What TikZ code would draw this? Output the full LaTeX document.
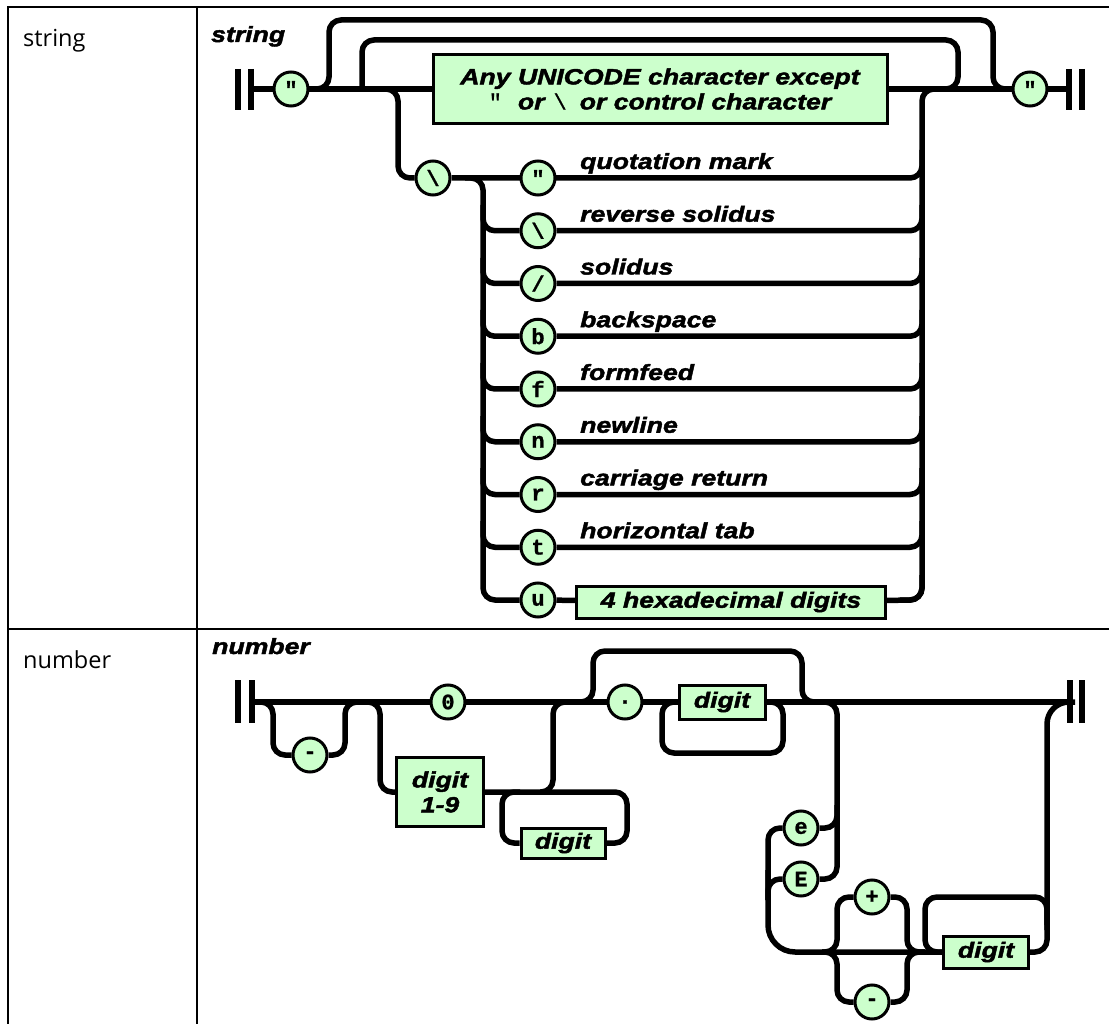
\documentclass[tikz,border=0pt]{standalone}
\usepackage{fontspec}
\usetikzlibrary{backgrounds}
\newfontfamily\rrfont{Liberation Sans}[FakeStretch=1.21,FakeBold=2]
\newfontfamily\monofont{Liberation Mono}[FakeBold=1]
\newfontfamily\cellfont{Open Sans}
\newcommand\rrf{\fontsize{22}{25}\rrfont\bfseries\itshape}
\newcommand\mq{{\monofont\upshape\mdseries "}}
\newcommand\mbs{{\monofont\upshape\mdseries\textbackslash}}
\definecolor{termgreen}{RGB}{204,255,204}
\begin{document}
\begin{tikzpicture}[x=1pt,y=-1pt,
 track/.style={line width=5.5pt,rounded corners=12pt},
 bigr/.style={line width=5.5pt,rounded corners=27pt},
 term/.style={circle,draw,line width=3pt,fill=termgreen,minimum size=34pt,inner sep=0pt,font=\fontsize{22}{22}\monofont\bfseries},
 nterm/.style={rectangle,draw,line width=3pt,fill=termgreen,inner sep=0pt,align=center,font=\rrf},
 lbl/.style={anchor=base west,inner sep=0pt,font=\rrf},
 cell/.style={anchor=base west,inner sep=0pt,font=\fontsize{23.5}{27}\cellfont},
 bar/.style={line width=5.5pt},
 tbl/.style={line width=2.5pt}]
\useasboundingbox (0,0) rectangle (1109,1024);
% table
\draw[tbl] (8,1030) -- (8,7) -- (1115,7);
\draw[tbl] (197,7) -- (197,1030);
\draw[tbl] (8,629) -- (1115,629);
\node[cell] (cstr) at (23,47) {string};
\node[cell] (cnum) at (23,668) {number};
% ---------- string ----------
\node[lbl] (tstr) at (211,42) {string};
\coordinate (sA) at (251,89);
\coordinate (sE) at (1069,89);
\draw[bar] (238,69) -- (238,110);
\draw[bar] (251,69) -- (251,110);
\draw[bar] (1069,69) -- (1069,110);
\draw[bar] (1082,69) -- (1082,110);
\node[term] (sq1) at (291,89) {"};
\node[nterm,minimum width=454pt,minimum height=69pt] (box1) at (660,89)
  {Any UNICODE character except\\\mq\hspace{16pt}or\hspace{9pt}\mbs\hspace{13pt}or control character};
\node[term] (sq2) at (1030,89) {"};
\node[term] (bs) at (433,178) {\textbackslash};
\node[term] (e0) at (538,178) {"};
\node[term] (e1) at (538,230.75) {\textbackslash};
\node[term] (e2) at (538,283.5) {/};
\node[term] (e3) at (538,336.25) {b};
\node[term] (e4) at (538,389) {f};
\node[term] (e5) at (538,441.75) {n};
\node[term] (e6) at (538,494.5) {r};
\node[term] (e7) at (538,547.25) {t};
\node[term] (e8) at (538,600) {u};
\node[nterm,minimum width=309pt,minimum height=32pt] (hex) at (731,602) {4 hexadecimal digits};
\node[lbl] (l0) at (580,169) {quotation mark};
\node[lbl] (l1) at (580,221.75) {reverse solidus};
\node[lbl] (l2) at (580,274.5) {solidus};
\node[lbl] (l3) at (580,327.25) {backspace};
\node[lbl] (l4) at (580,380) {formfeed};
\node[lbl] (l5) at (580,432.75) {newline};
\node[lbl] (l6) at (580,485.5) {carriage return};
\node[lbl] (l7) at (580,538.25) {horizontal tab};
% ---------- number ----------
\node[lbl] (tnum) at (212,654) {number};
\coordinate (nA) at (252,702);
\coordinate (nE) at (1070,702);
\draw[bar] (238,680) -- (238,723);
\draw[bar] (252,680) -- (252,723);
\draw[bar] (1070,680) -- (1070,723);
\draw[bar] (1082,680) -- (1082,723);
\node[term] (m1) at (310,755) {-};
\node[term] (zero) at (448,702) {0};
\node[nterm,minimum width=87pt,minimum height=69pt] (d19) at (440,792) {digit\\1-9};
\node[nterm,minimum width=84pt,minimum height=30pt] (dig1) at (563,843) {digit};
\node[term] (dot) at (625,702) {.};
\node[nterm,minimum width=86pt,minimum height=34pt] (dig2) at (722,702) {digit};
\node[term] (ee) at (801,828) {e};
\node[term] (EE) at (801,879) {E};
\node[term] (plus) at (872,897) {+};
\node[term] (m2) at (872,1002) {-};
\node[nterm,minimum width=85pt,minimum height=32pt] (dig3) at (986,952) {digit};
\begin{scope}[on background layer]
% string tracks
\draw[track] (sA) -- (sE);
\draw[track] (305,89) -- (329,89) -- (329,20) -- (993,20) -- (993,89) -- (1015,89);
\draw[track] (362,89) -- (362,40) -- (958,40) -- (958,89) -- (935,89);
\draw[track] (372,89) -- (398,89) -- (398,178) -- (bs);
\draw[track] (bs) -- (922,178) -- (922,150);
\draw[track] (900,600) -- (922,600) -- (922,89) -- (950,89);
\draw[track] (465,178) -- (483,178) -- (483,600) -- (e8);
\draw[track] (483,205) -- (483,230.75) -- (e1) -- (922,230.75) -- (922,205);
\draw[track] (483,258) -- (483,283.5) -- (e2) -- (922,283.5) -- (922,258);
\draw[track] (483,310) -- (483,336.25) -- (e3) -- (922,336.25) -- (922,310);
\draw[track] (483,363) -- (483,389) -- (e4) -- (922,389) -- (922,363);
\draw[track] (483,416) -- (483,441.75) -- (e5) -- (922,441.75) -- (922,416);
\draw[track] (483,468) -- (483,494.5) -- (e6) -- (922,494.5) -- (922,468);
\draw[track] (483,521) -- (483,547.25) -- (e7) -- (922,547.25) -- (922,521);
\draw[track] (e8) -- (hex) -- (922,600) -- (922,575);
% number tracks
\draw[track] (nA) -- (nE);
\draw[track] (258,702) -- (273,702) -- (273,755) -- (m1) -- (345,755) -- (345,702) -- (360,702);
\draw[track] (362,702) -- (380,702) -- (380,792) -- (d19);
\draw[track] (d19) -- (553,792) -- (553,702) -- (575,702);
\draw[track] (540,792) -- (627,792) -- (627,843) -- (dig1);
\draw[track] (dig1) -- (502,843) -- (502,792) -- (520,792);
\draw[track] (578,702) -- (593,702) -- (593,651) -- (802,651) -- (802,702) -- (820,702);
\draw[track] (dig2) -- (783,702) -- (783,753) -- (662,753) -- (662,702) -- (dig2);
\draw[track] (815,702) -- (837,702) -- (837,879) -- (EE);
\draw[track] (ee) -- (837,828) -- (837,805);
\draw[track] (ee) -- (768,828) -- (768,900);
\draw[track] (EE) -- (768,879) -- (768,900);
\draw[bigr] (768,870) -- (768,952) -- (dig3);
\draw[track] (822,952) -- (837,952) -- (837,897) -- (plus) -- (907,897) -- (907,952) -- (925,952);
\draw[track] (822,952) -- (837,952) -- (837,1002) -- (m2) -- (907,1002) -- (907,952) -- (925,952);
\draw[track] (dig3) -- (925,952) -- (925,897) -- (1047,897) -- (1047,925);
\draw[track] (dig3) -- (1047,952) -- (1047,900);
\draw[track,rounded corners=22pt] (1047,930) -- (1047,702) -- (1075,702);
\end{scope}
\end{tikzpicture}
\end{document}
